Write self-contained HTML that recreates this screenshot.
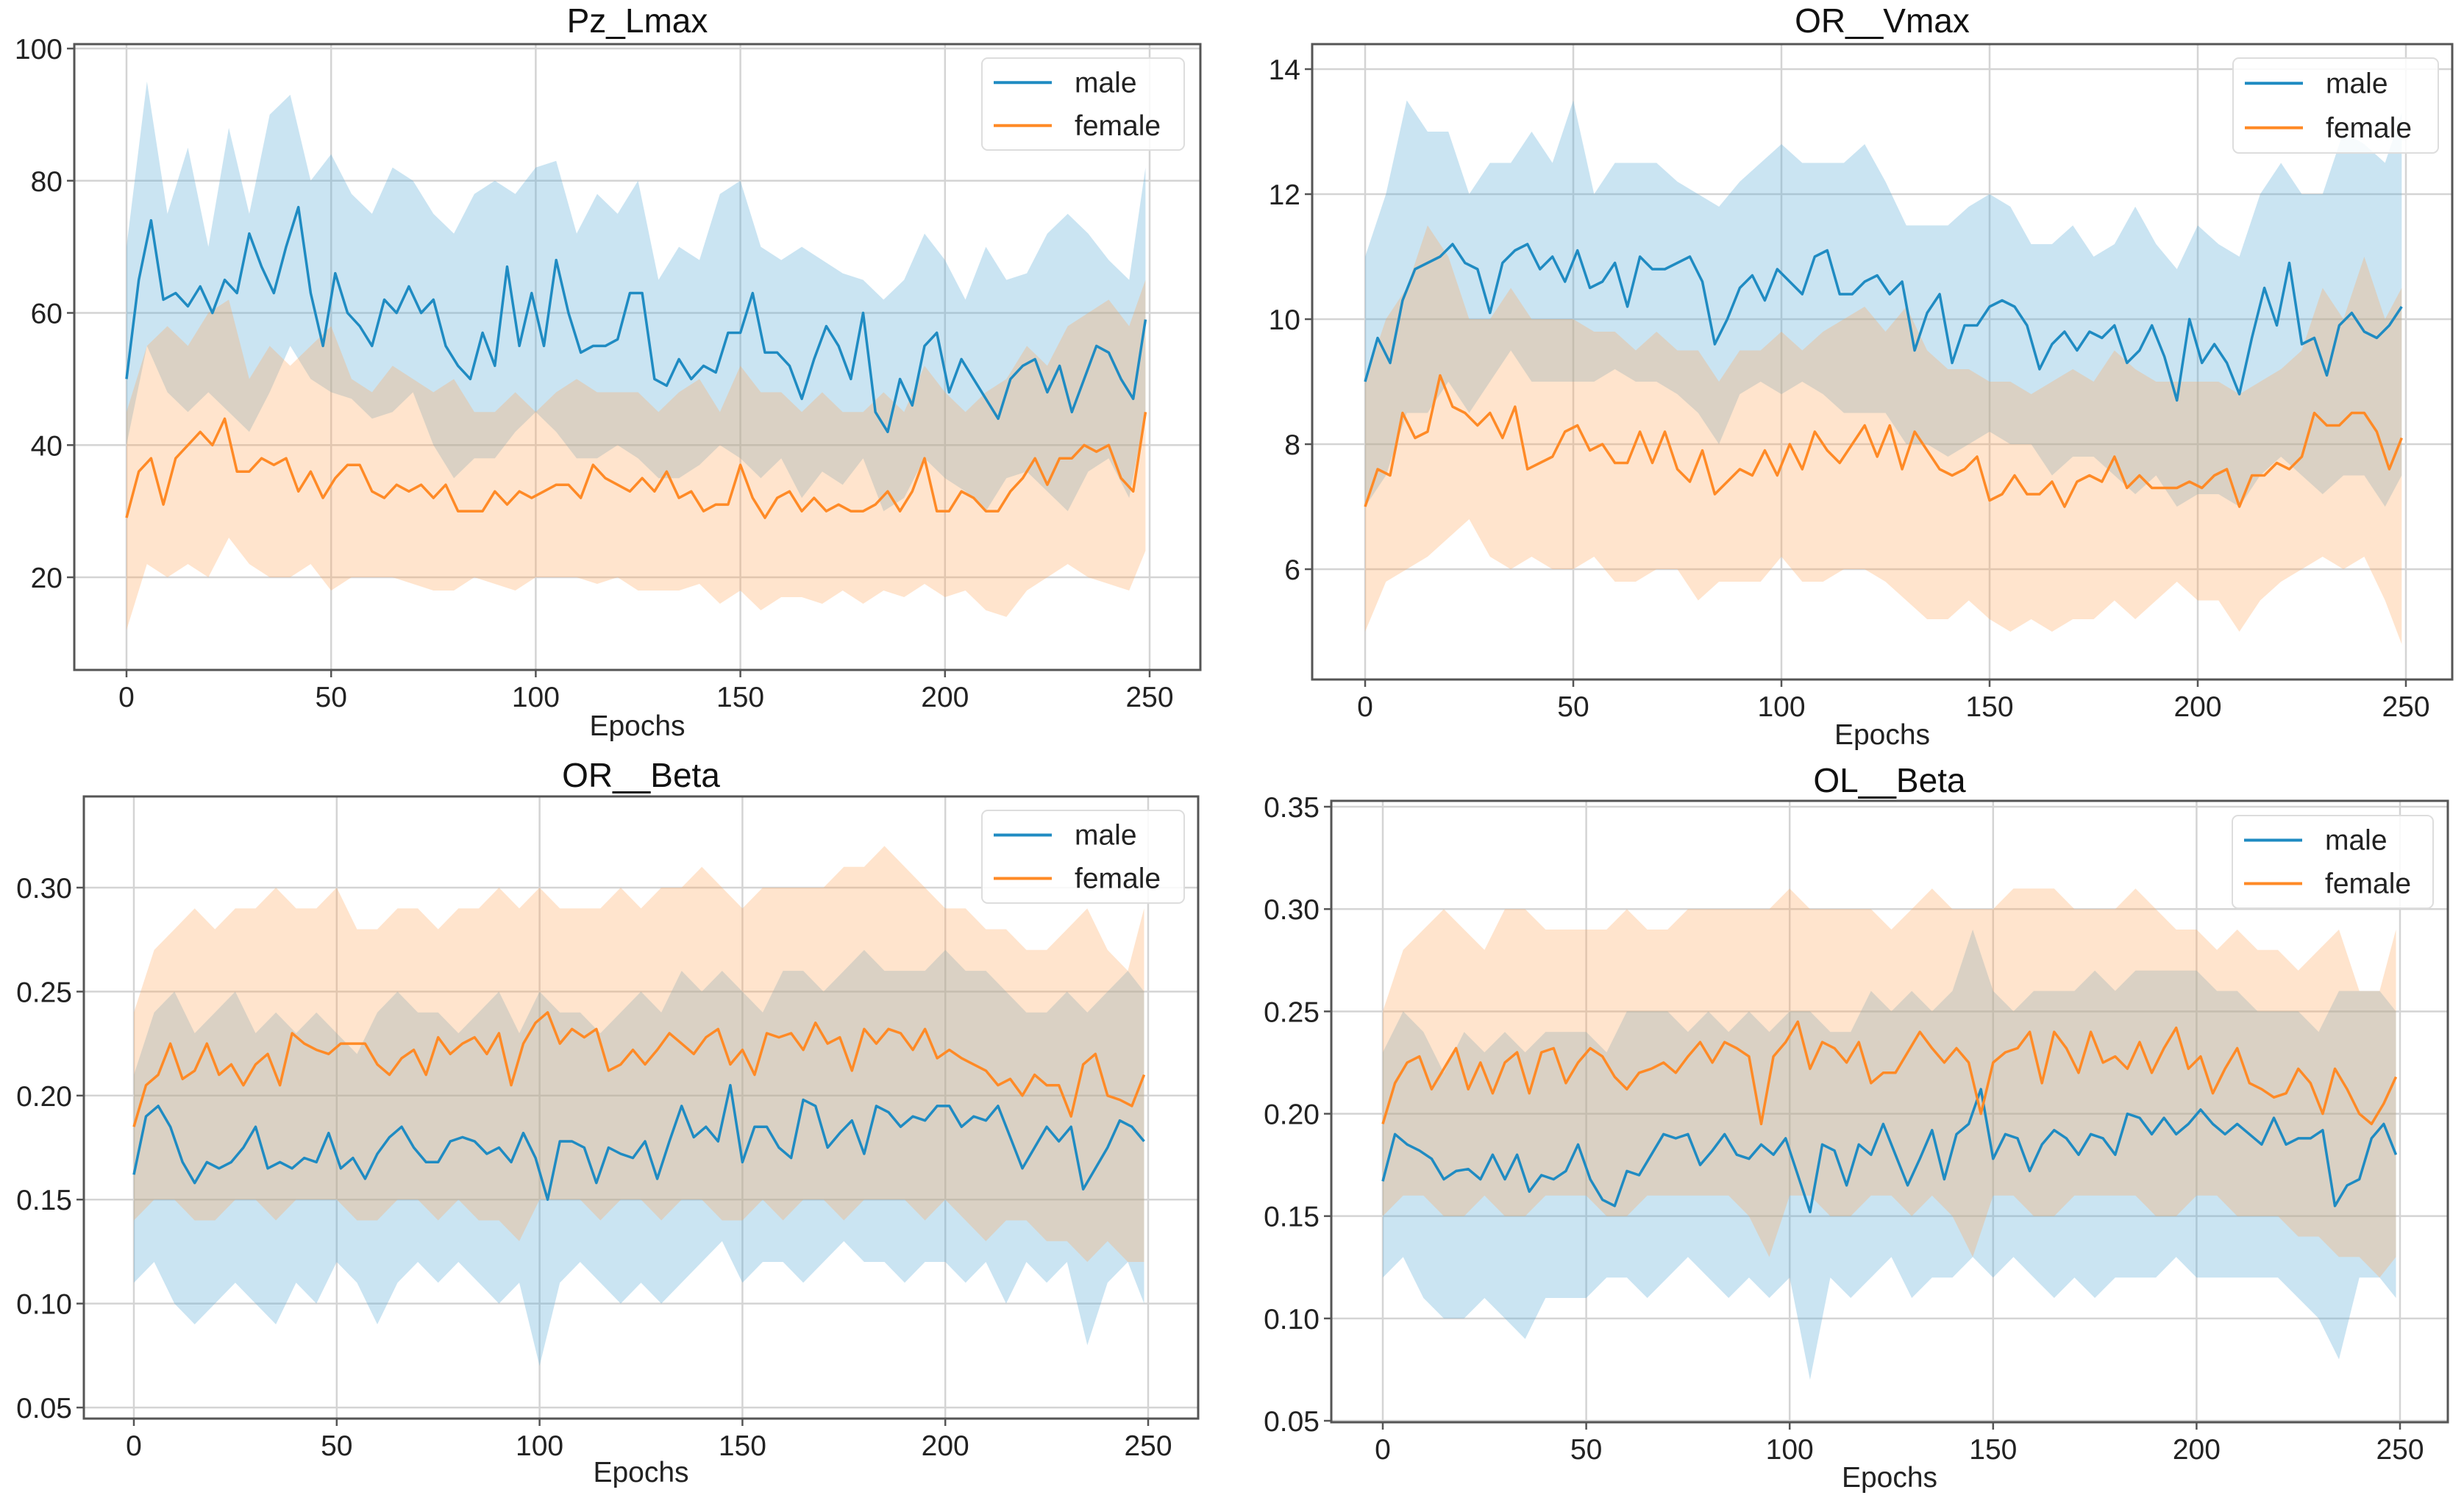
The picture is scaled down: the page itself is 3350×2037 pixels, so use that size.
<!DOCTYPE html>
<html><head><meta charset="utf-8"><style>
html,body{margin:0;padding:0;background:#fff;}
svg{display:block;font-family:"Liberation Sans","DejaVu Sans",sans-serif;}
</style></head><body>
<svg id="fig" width="3350" height="2037" viewBox="0 0 3350 2037" xmlns="http://www.w3.org/2000/svg"></svg>
<script>
// ---------- data ----------
const xTicks = [0,50,100,150,200,250];
const p1Title = "Pz_Lmax", p2Title = "OR__Vmax", p3Title = "OR__Beta", p4Title = "OL__Beta";
const p1YTicks = [20,40,60,80,100];
const p2YTicks = [6,8,10,12,14];
const p3YTicks = [0.05,0.10,0.15,0.20,0.25,0.30];
const p4YTicks = [0.05,0.10,0.15,0.20,0.25,0.30,0.35];
const meanStep = 3, bandStep = 5;

// Panel 1 Pz_Lmax
const p1Male = [50,65,74,62,63,61,64,60,65,63,72,67,63,70,76,63,55,66,60,58,55,62,60,64,60,62,55,52,50,57,52,67,55,63,55,68,60,54,55,55,56,63,63,50,49,53,50,52,51,57,57,63,54,54,52,47,53,58,55,50,60,45,42,50,46,55,57,48,53,50,47,44,50,52,53,48,52,45,50,55,54,50,47,59];
const p1MaleHi = [70,95,75,85,70,88,75,90,93,80,84,78,75,82,80,75,72,78,80,78,82,83,72,78,75,80,65,70,68,78,80,70,68,70,68,66,65,62,65,72,68,62,70,65,66,72,75,72,68,65,82];
const p1MaleLo = [40,55,48,45,48,45,42,48,55,50,48,47,44,45,48,40,35,38,38,42,45,42,38,38,40,38,35,35,37,40,38,35,38,32,36,34,38,30,32,38,35,33,30,35,36,33,30,36,38,32,45];
const p1Female = [29,36,38,31,38,40,42,40,44,36,36,38,37,38,33,36,32,35,37,37,33,32,34,33,34,32,34,30,30,30,33,31,33,32,33,34,34,32,37,35,34,33,35,33,36,32,33,30,31,31,37,32,29,32,33,30,32,30,31,30,30,31,33,30,33,38,30,30,33,32,30,30,33,35,38,34,38,38,40,39,40,35,33,45];
const p1FemaleHi = [45,55,58,55,60,62,50,55,52,55,58,50,48,52,50,48,50,45,45,48,45,48,50,48,48,48,45,48,50,45,52,48,48,45,48,45,45,48,45,52,48,45,48,50,55,52,58,60,62,58,65];
const p1FemaleLo = [12,22,20,22,20,26,22,20,20,22,18,20,20,20,19,18,18,20,19,18,20,20,20,19,20,18,18,18,19,16,18,15,17,17,16,18,16,18,17,19,17,18,15,14,18,20,22,20,19,18,24];

// Panel 2 OR__Vmax
const p2Male = [9.0,9.7,9.3,10.3,10.8,10.9,11.0,11.2,10.9,10.8,10.1,10.9,11.1,11.2,10.8,11.0,10.6,11.1,10.5,10.6,10.9,10.2,11.0,10.8,10.8,10.9,11.0,10.6,9.6,10.0,10.5,10.7,10.3,10.8,10.6,10.4,11.0,11.1,10.4,10.4,10.6,10.7,10.4,10.6,9.5,10.1,10.4,9.3,9.9,9.9,10.2,10.3,10.2,9.9,9.2,9.6,9.8,9.5,9.8,9.7,9.9,9.3,9.5,9.9,9.4,8.7,10.0,9.3,9.6,9.3,8.8,9.7,10.5,9.9,10.9,9.6,9.7,9.1,9.9,10.1,9.8,9.7,9.9,10.2];
const p2MaleHi = [11,12,13.5,13,13,12,12.5,12.5,13,12.5,13.5,12,12.5,12.5,12.5,12.2,12.0,11.8,12.2,12.5,12.8,12.5,12.5,12.5,12.8,12.2,11.5,11.5,11.5,11.8,12.0,11.8,11.2,11.2,11.5,11.0,11.2,11.8,11.2,10.8,11.5,11.2,11.0,12.0,12.5,12.0,12.0,13.0,12.8,12.5,13.3];
const p2MaleLo = [7,7.5,8.5,8.5,9.0,8.5,9.0,9.5,9.0,9.0,9.0,9.0,9.2,9.0,9.0,8.8,8.5,8.0,8.8,9.0,8.8,9.0,8.8,8.5,8.5,8.5,8.0,8.0,7.8,8.0,8.2,8.0,8.0,7.5,7.8,7.8,7.5,7.2,7.5,7.0,7.2,7.2,7.0,7.5,7.8,7.5,7.2,7.5,7.5,7.0,7.5];
const p2Female = [7.0,7.6,7.5,8.5,8.1,8.2,9.1,8.6,8.5,8.3,8.5,8.1,8.6,7.6,7.7,7.8,8.2,8.3,7.9,8.0,7.7,7.7,8.2,7.7,8.2,7.6,7.4,7.9,7.2,7.4,7.6,7.5,7.9,7.5,8.0,7.6,8.2,7.9,7.7,8.0,8.3,7.8,8.3,7.6,8.2,7.9,7.6,7.5,7.6,7.8,7.1,7.2,7.5,7.2,7.2,7.4,7.0,7.4,7.5,7.4,7.8,7.3,7.5,7.3,7.3,7.3,7.4,7.3,7.5,7.6,7.0,7.5,7.5,7.7,7.6,7.8,8.5,8.3,8.3,8.5,8.5,8.2,7.6,8.1];
const p2FemaleHi = [9,10,10.5,11.5,11,10,10,10.5,10,10,10,9.8,9.8,9.5,9.8,9.5,9.5,9.0,9.5,9.5,9.8,9.5,9.8,10,10.2,9.8,10.2,9.5,9.2,9.2,9.0,9.0,8.8,9.0,9.2,9.0,9.5,9.2,9.0,9.0,9.0,9.0,8.8,9.0,9.2,9.5,10.5,10.0,11.0,10.0,10.5];
const p2FemaleLo = [5.0,5.8,6.0,6.2,6.5,6.8,6.2,6.0,6.2,6.0,6.0,6.2,5.8,5.8,6.0,6.0,5.5,5.8,5.8,5.8,6.2,5.8,5.8,6.0,6.0,5.8,5.5,5.2,5.2,5.5,5.2,5.0,5.2,5.0,5.2,5.2,5.5,5.2,5.5,5.8,5.5,5.5,5.0,5.5,5.8,6.0,6.2,6.0,6.2,5.5,4.8];

// Panel 3 OR__Beta
const p3Male = [.162,.190,.195,.185,.168,.158,.168,.165,.168,.175,.185,.165,.168,.165,.170,.168,.182,.165,.170,.160,.172,.180,.185,.175,.168,.168,.178,.180,.178,.172,.175,.168,.182,.170,.150,.178,.178,.175,.158,.175,.172,.170,.178,.160,.178,.195,.180,.185,.178,.205,.168,.185,.185,.175,.170,.198,.195,.175,.182,.188,.172,.195,.192,.185,.190,.188,.195,.195,.185,.190,.188,.195,.180,.165,.175,.185,.178,.185,.155,.165,.175,.188,.185,.178];
const p3MaleHi = [.21,.24,.25,.23,.24,.25,.23,.24,.23,.24,.23,.22,.24,.25,.24,.24,.23,.24,.25,.23,.25,.24,.24,.23,.24,.25,.24,.26,.25,.26,.25,.24,.26,.26,.25,.26,.27,.26,.26,.26,.27,.26,.26,.25,.24,.24,.25,.24,.25,.26,.25];
const p3MaleLo = [.11,.12,.10,.09,.10,.11,.10,.09,.11,.10,.12,.11,.09,.11,.12,.11,.12,.11,.10,.11,.07,.11,.12,.11,.10,.11,.10,.11,.12,.13,.11,.12,.12,.11,.12,.13,.12,.12,.11,.12,.12,.11,.12,.10,.12,.11,.12,.08,.11,.12,.10];
const p3Female = [.185,.205,.210,.225,.208,.212,.225,.210,.215,.205,.215,.220,.205,.230,.225,.222,.220,.225,.225,.225,.215,.210,.218,.222,.210,.228,.220,.225,.228,.220,.230,.205,.225,.235,.240,.225,.232,.228,.232,.212,.215,.222,.215,.222,.230,.225,.220,.228,.232,.215,.222,.210,.230,.228,.230,.222,.235,.225,.228,.212,.232,.225,.232,.230,.222,.232,.218,.222,.218,.215,.212,.205,.208,.200,.210,.205,.205,.190,.215,.220,.200,.198,.195,.210];
const p3FemaleHi = [.24,.27,.28,.29,.28,.29,.29,.30,.29,.29,.30,.28,.28,.29,.29,.28,.29,.29,.30,.29,.30,.29,.29,.29,.30,.29,.30,.30,.31,.30,.29,.30,.30,.30,.30,.31,.31,.32,.31,.30,.29,.29,.28,.28,.27,.27,.28,.29,.27,.26,.29];
const p3FemaleLo = [.14,.15,.15,.14,.14,.15,.15,.14,.15,.15,.15,.14,.14,.15,.15,.14,.15,.14,.14,.13,.15,.15,.15,.14,.15,.15,.14,.15,.15,.14,.14,.15,.14,.15,.15,.14,.15,.15,.15,.14,.15,.14,.13,.14,.14,.13,.13,.12,.13,.12,.12];

// Panel 4 OL__Beta
const p4Male = [.167,.190,.185,.182,.178,.168,.172,.173,.168,.180,.168,.180,.162,.170,.168,.172,.185,.168,.158,.155,.172,.170,.180,.190,.188,.190,.175,.182,.190,.180,.178,.185,.180,.188,.170,.152,.185,.182,.165,.185,.180,.195,.180,.165,.178,.192,.168,.190,.195,.212,.178,.190,.188,.172,.185,.192,.188,.180,.190,.188,.180,.200,.198,.190,.198,.190,.195,.202,.195,.190,.195,.190,.185,.198,.185,.188,.188,.192,.155,.165,.168,.188,.195,.180];
const p4MaleHi = [.23,.25,.24,.22,.24,.23,.24,.23,.24,.24,.24,.23,.25,.25,.25,.24,.25,.24,.25,.24,.25,.25,.24,.24,.26,.25,.26,.25,.26,.29,.26,.25,.26,.26,.26,.27,.26,.27,.27,.27,.27,.26,.26,.25,.25,.25,.24,.26,.26,.26,.25];
const p4MaleLo = [.12,.13,.11,.10,.10,.11,.10,.09,.11,.11,.11,.12,.12,.11,.12,.13,.12,.11,.12,.11,.12,.07,.12,.11,.12,.13,.11,.12,.12,.13,.12,.13,.12,.11,.12,.11,.12,.12,.12,.13,.12,.12,.12,.12,.12,.11,.10,.08,.12,.12,.11];
const p4Female = [.195,.215,.225,.228,.212,.222,.232,.212,.225,.210,.225,.230,.210,.230,.232,.215,.225,.232,.228,.218,.212,.220,.222,.225,.220,.228,.235,.225,.235,.232,.228,.195,.228,.235,.245,.222,.235,.232,.225,.235,.215,.220,.220,.230,.240,.232,.225,.232,.225,.200,.225,.230,.232,.240,.215,.240,.232,.220,.240,.225,.228,.222,.235,.220,.232,.242,.222,.228,.210,.222,.232,.215,.212,.208,.210,.222,.215,.200,.222,.212,.200,.195,.205,.218];
const p4FemaleHi = [.25,.28,.29,.30,.29,.28,.30,.30,.29,.29,.29,.29,.30,.29,.29,.30,.30,.30,.30,.30,.31,.30,.30,.30,.30,.29,.30,.31,.30,.30,.30,.31,.31,.31,.30,.30,.30,.31,.30,.29,.29,.28,.29,.28,.28,.27,.28,.29,.26,.26,.29];
const p4FemaleLo = [.15,.16,.16,.15,.15,.16,.15,.15,.16,.16,.16,.15,.15,.16,.16,.16,.16,.16,.15,.13,.16,.16,.15,.15,.16,.16,.15,.16,.15,.13,.16,.16,.15,.15,.16,.16,.16,.16,.15,.15,.16,.16,.15,.15,.15,.14,.14,.13,.13,.12,.13];

// ---------- layout (geometry only) ----------
const panels = [
  {id:"p1", title:p1Title, yTicks:p1YTicks, dec:0, box:[101,60,1632,911], xa:[172,1563], ya:[20,785,100,66], leg:[1335,79,1610,204], titleY:44, epochsY:1000,
   male:p1Male, maleHi:p1MaleHi, maleLo:p1MaleLo, female:p1Female, femaleHi:p1FemaleHi, femaleLo:p1FemaleLo},
  {id:"p2", title:p2Title, yTicks:p2YTicks, dec:0, box:[1784,60,3334,924], xa:[1856,3271], ya:[6,774,14,94], leg:[3036,79,3315,208], titleY:44, epochsY:1012,
   male:p2Male, maleHi:p2MaleHi, maleLo:p2MaleLo, female:p2Female, femaleHi:p2FemaleHi, femaleLo:p2FemaleLo},
  {id:"p3", title:p3Title, yTicks:p3YTicks, dec:2, box:[114,1083,1629,1929], xa:[182,1561], ya:[0.05,1914,0.30,1207], leg:[1335,1102,1610,1228], titleY:1070, epochsY:2015,
   male:p3Male, maleHi:p3MaleHi, maleLo:p3MaleLo, female:p3Female, femaleHi:p3FemaleHi, femaleLo:p3FemaleLo},
  {id:"p4", title:p4Title, yTicks:p4YTicks, dec:2, box:[1810,1089,3328,1934], xa:[1880,3263], ya:[0.05,1932,0.35,1097], leg:[3035,1109,3308,1235], titleY:1077, epochsY:2022,
   male:p4Male, maleHi:p4MaleHi, maleLo:p4MaleLo, female:p4Female, femaleHi:p4FemaleHi, femaleLo:p4FemaleLo}
];

const NS = "http://www.w3.org/2000/svg";
const svg = document.getElementById("fig");
function mk(tag, attrs, parent){
  const e = document.createElementNS(NS, tag);
  for (const k in attrs) e.setAttribute(k, attrs[k]);
  (parent||svg).appendChild(e);
  return e;
}
const BLUE = "#1f8bc2", ORANGE = "#ff8a26";
const BLUEFILL = "rgba(90,170,215,0.32)", ORANGEFILL = "rgba(255,165,90,0.30)";

panels.forEach((P) => {
  const [L,T,R,B] = P.box;
  const xs = e => P.xa[0] + (e/250)*(P.xa[1]-P.xa[0]);
  const ys = v => P.ya[1] + (v-P.ya[0])/(P.ya[2]-P.ya[0])*(P.ya[3]-P.ya[1]);
  const meanEpoch = i => Math.min(i*meanStep, 249);
  const bandEpoch = i => Math.min(i*bandStep, 249);

  const g = mk("g", {});
  
  

  const clip = mk("clipPath", {id:"clip-"+P.id}, g);
  mk("rect", {x:L, y:T, width:R-L, height:B-T}, clip);

  const bg = mk("rect", {x:L, y:T, width:R-L, height:B-T, fill:"#fff"}, g);
  
  

  // grid
  xTicks.forEach(t => {
    const gl = mk("line", {x1:xs(t), x2:xs(t), y1:T, y2:B, stroke:"#d4d4d4", "stroke-width":2.5}, g);
    
    
  });
  P.yTicks.forEach(t => {
    const gl = mk("line", {x1:L, x2:R, y1:ys(t), y2:ys(t), stroke:"#d4d4d4", "stroke-width":2.5}, g);
    
    
  });

  const cg = mk("g", {"clip-path":"url(#clip-"+P.id+")"}, g);
  function band(hi, lo, fill, name){
    let d = "";
    hi.forEach((v,i) => { d += (i?"L":"M") + xs(bandEpoch(i)).toFixed(1) + "," + ys(v).toFixed(1); });
    for (let i = lo.length-1; i >= 0; i--) d += "L" + xs(bandEpoch(i)).toFixed(1) + "," + ys(lo[i]).toFixed(1);
    const p = mk("path", {d:d+"Z", fill:fill, stroke:"none"}, cg);
    
    
  }
  function line(arr, color, name){
    let d = "";
    arr.forEach((v,i) => { d += (i?"L":"M") + xs(meanEpoch(i)).toFixed(1) + "," + ys(v).toFixed(1); });
    const p = mk("path", {d:d, fill:"none", stroke:color, "stroke-width":3.5, "stroke-linejoin":"round"}, cg);
    
    
  }
  band(P.maleHi, P.maleLo, BLUEFILL, 'male-band');
  band(P.femaleHi, P.femaleLo, ORANGEFILL, 'female-band');
  line(P.male, BLUE, 'male-line');
  line(P.female, ORANGE, 'female-line');

  // frame
  const fr = mk("rect", {x:L, y:T, width:R-L, height:B-T, fill:"none", stroke:"#555", "stroke-width":3}, g);
  
  

  // ticks & labels
  xTicks.forEach(t => {
    const tk = mk("line", {x1:xs(t), x2:xs(t), y1:B, y2:B+10, stroke:"#555", "stroke-width":2.5}, g);
    
    
    const tl = mk("text", {x:xs(t), y:B+50, "text-anchor":"middle", "font-size":39, fill:"#222"}, g);
    tl.textContent = String(t);
    
    
  });
  P.yTicks.forEach(t => {
    const tk = mk("line", {x1:L-10, x2:L, y1:ys(t), y2:ys(t), stroke:"#555", "stroke-width":2.5}, g);
    
    
    const tl = mk("text", {x:L-16, y:ys(t)+14, "text-anchor":"end", "font-size":39, fill:"#222"}, g);
    tl.textContent = t.toFixed(P.dec);
    
    
  });

  const ti = mk("text", {x:(L+R)/2, y:P.titleY, "text-anchor":"middle", "font-size":46, fill:"#111"}, g);
  ti.textContent = P.title;
  
  

  const xl = mk("text", {x:(L+R)/2, y:P.epochsY, "text-anchor":"middle", "font-size":39, fill:"#222"}, g);
  xl.textContent = "Epochs";
  
  

  // legend
  const [lx1,ly1,lx2,ly2] = P.leg;
  const lg = mk("g", {}, g);
  
  
  mk("rect", {x:lx1, y:ly1, width:lx2-lx1, height:ly2-ly1, rx:8, fill:"rgba(255,255,255,0.85)", stroke:"#ddd", "stroke-width":2}, lg);
  const rowH = (ly2-ly1)/2;
  [["male",BLUE],["female",ORANGE]].forEach((it, k) => {
    const yy = ly1 + rowH*(k+0.5) + (k===0?2:-2);
    const e = mk("g", {}, lg);
    
    
    mk("line", {x1:lx1+16, x2:lx1+95, y1:yy, y2:yy, stroke:it[1], "stroke-width":4}, e);
    const tx = mk("text", {x:lx1+126, y:yy+13, "font-size":39, fill:"#222"}, e);
    tx.textContent = it[0];
  });
});
</script>
</body></html>
